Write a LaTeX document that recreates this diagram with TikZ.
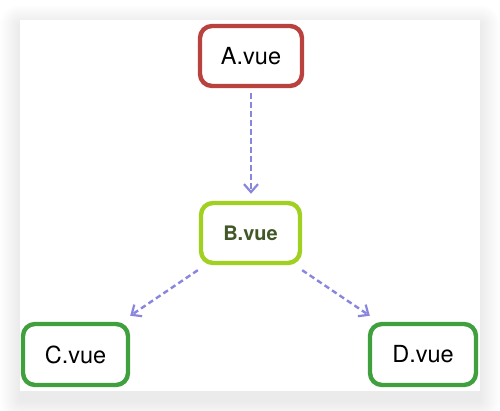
\documentclass[tikz,border=0pt]{standalone}
\usepackage{fontspec}
\setmainfont{TeX Gyre Heros}
\usetikzlibrary{arrows.meta,calc}

\definecolor{boxred}{RGB}{186,66,62}
\definecolor{boxlime}{RGB}{160,208,32}
\definecolor{boxgreen}{RGB}{64,160,62}
\definecolor{limetext}{RGB}{66,88,40}
\definecolor{linkcol}{RGB}{137,134,224}

\tikzset{
  filebox/.style={draw, line width=4.4pt, rounded corners=12pt, fill=white,
    inner sep=0pt, font=\fontsize{23.5}{26}\selectfont, text=black},
  link/.style={draw=linkcol, line width=2.4pt, dash pattern=on 5.5pt off 3.5pt,
    -{Straight Barb[length=8pt,width=14pt,line width=2.2pt]}}
}

\begin{document}
\begin{tikzpicture}[x=1pt,y=1pt]
  \useasboundingbox (0,0) rectangle (500,411);
  \fill[white] (0,0) rectangle (500,411);

  % soft drop shadow under the card
  \foreach \i in {1,...,20}{
    \fill[black, opacity=0.004, rounded corners=\i pt]
      ($(20,10)+(-\i,-\i)$) rectangle ($(480,386)+(\i,\i)$);
  }
  % card
  \fill[white] (20,20) rectangle (480,391);

  % components
  \node[filebox, draw=boxred, minimum width=102pt, minimum height=60pt] (A) at (251,355) {A.vue};
  \node[filebox, draw=boxlime, minimum width=99pt, minimum height=60pt,
        text=limetext, font=\fontsize{20}{24}\selectfont\bfseries] (B) at (250.5,178) {B.vue};
  \node[filebox, draw=boxgreen, minimum width=105pt, minimum height=61pt] (C) at (75.5,56.5) {C.vue};
  \node[filebox, draw=boxgreen, minimum width=106pt, minimum height=61pt] (D) at (423,56.5) {D.vue};

  % dependencies
  \draw[link] ($(A.south)+(0,-5)$) -- ($(B.north)+(0.5,7)$);
  \draw[link] ($(B.south west)+(-1,-5)$) -- ($(C.north east)+(0,6)$);
  \draw[link] ($(B.south east)+(0,-5)$) -- ($(D.north west)+(2,6)$);
\end{tikzpicture}
\end{document}
